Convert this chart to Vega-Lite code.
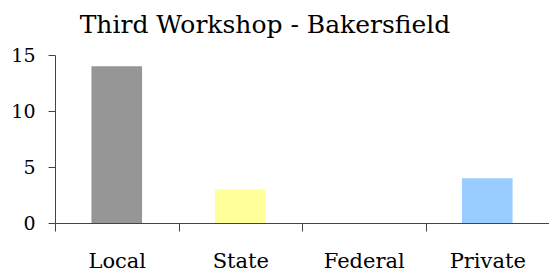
{
  "$schema": "https://vega.github.io/schema/vega-lite/v6.json",
  "autosize": "none",
  "width": 494,
  "height": 168,
  "padding": {"left": 55, "top": 55, "right": 0, "bottom": 51},
  "background": "white",
  "title": {
    "text": "Third Workshop - Bakersfield",
    "font": "DejaVu Serif",
    "fontSize": 25,
    "fontWeight": "normal",
    "color": "black",
    "anchor": "middle",
    "baseline": "alphabetic",
    "offset": 8,
    "dy": 20,
    "dx": -37
  },
  "data": {
    "values": [
      {"source": "Local", "count": 14},
      {"source": "State", "count": 3},
      {"source": "Federal", "count": 0},
      {"source": "Private", "count": 4}
    ]
  },
  "mark": {"type": "bar", "width": {"band": 0.41}},
  "encoding": {
    "x": {
      "field": "source",
      "type": "nominal",
      "sort": null,
      "scale": {"paddingInner": 0, "paddingOuter": 0},
      "axis": {
        "title": null,
        "labelAngle": 0,
        "labelFont": "DejaVu Serif",
        "labelFontSize": 21,
        "labelColor": "black",
        "labelPadding": 19,
        "tickBand": "extent",
        "tickSize": 8,
        "tickColor": "#444",
        "domainColor": "#444",
        "grid": false
      }
    },
    "y": {
      "field": "count",
      "type": "quantitative",
      "scale": {"domain": [0, 15], "nice": false},
      "axis": {
        "title": null,
        "values": [0, 5, 10, 15],
        "labelFont": "DejaVu Serif",
        "labelFontSize": 19,
        "labelColor": "black",
        "labelPadding": 13,
        "tickSize": 7,
        "tickColor": "#444",
        "domainColor": "#444",
        "grid": false
      }
    },
    "color": {
      "field": "source",
      "type": "nominal",
      "scale": {"domain": ["Local", "State", "Federal", "Private"], "range": ["#969696", "#FFFF99", "#FFFFFF", "#99CCFF"]},
      "legend": null
    }
  },
  "config": {"view": {"stroke": null}}
}
